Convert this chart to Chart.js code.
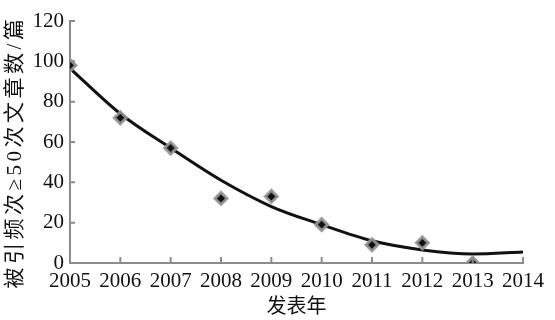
<!DOCTYPE html>
<html>
<head>
<meta charset="utf-8">
<script src="https://cdn.jsdelivr.net/npm/chart.js@4/dist/chart.umd.min.js"></script>
<style>
  html, body { margin: 0; padding: 0; background: #fff; }
  #wrap { width: 555px; height: 320px; }
</style>
</head>
<body>
<div id="wrap"><canvas id="citeChart"></canvas></div>
<script>
const years = [2005, 2006, 2007, 2008, 2009, 2010, 2011, 2012, 2013, 2014]
const pointYears = [2005, 2006, 2007, 2008, 2009, 2010, 2011, 2012, 2013]
const articleCounts = [98, 72, 57, 32, 33, 19, 9, 10, 0]
const trendValues = [96.5, 74, 57, 41, 28, 19, 11, 6.5, 4.5, 5.5]
const yTicks = [0, 20, 40, 60, 80, 100, 120]
const yTitle = '被引频次≥50次文章数/篇'

const axisGray = '#8c8c8c'
const serif = "'Liberation Serif', 'Noto Sans CJK SC', serif"

// small tick marks pointing into the plot, and the spaced-out y title
const innerTicks = {
    id: 'innerTicks',
    afterDraw(chart) {
        const ctx = chart.ctx
        const x = chart.scales.x
        const y = chart.scales.y
        ctx.save()
        ctx.strokeStyle = axisGray
        ctx.lineWidth = 2
        ctx.beginPath()
        years.forEach(v => {
            const px = x.getPixelForValue(v)
            ctx.moveTo(px, x.top)
            ctx.lineTo(px, x.top - 6)
        })
        yTicks.forEach(v => {
            const py = y.getPixelForValue(v)
            ctx.moveTo(y.right, py)
            ctx.lineTo(y.right + 5, py)
        })
        ctx.stroke()

        ctx.translate(15, 152)
        ctx.rotate(-Math.PI / 2)
        ctx.font = "21px " + serif
        ctx.letterSpacing = '3.5px'
        ctx.fillStyle = '#111'
        ctx.textAlign = 'center'
        ctx.textBaseline = 'middle'
        ctx.fillText(yTitle, 0, 0)
        ctx.restore()
    }
}

const data = {
    datasets: [{
        type: 'line',
        label: 'trend',
        data: years.map((yr, i) => ({x: yr, y: trendValues[i]})),
        borderColor: '#111',
        borderWidth: 3,
        pointRadius: 0,
        cubicInterpolationMode: 'monotone',
        fill: false,
        order: 2
    }, {
        type: 'scatter',
        label: 'articles',
        data: pointYears.map((yr, i) => ({x: yr, y: articleCounts[i]})),
        pointStyle: 'rectRot',
        pointRadius: 6,
        backgroundColor: '#111',
        borderColor: 'rgba(150,150,150,0.9)',
        borderWidth: 3,
        order: 1
    }]
}

const config = {
    data: data,
    options: {
        responsive: true,
        maintainAspectRatio: false,
        animation: false,
        layout: {
            padding: {left: 0, right: 32, top: 21, bottom: 0}
        },
        plugins: {
            legend: {display: false},
            tooltip: {enabled: false}
        },
        scales: {
            x: {
                type: 'linear',
                min: 2005,
                max: 2014,
                afterBuildTicks: scale => {
                    scale.ticks = years.map(v => ({value: v}))
                },
                afterFit: scale => { scale.height = 57 },
                grid: {display: false, drawTicks: false},
                border: {color: axisGray, width: 2},
                ticks: {
                    color: '#111',
                    font: {family: serif, size: 21},
                    padding: 6,
                    maxRotation: 0,
                    callback: v => String(v)
                },
                title: {
                    display: true,
                    text: '发表年',
                    color: '#111',
                    font: {family: serif, size: 20},
                    padding: {top: 0, bottom: 0}
                }
            },
            y: {
                min: 0,
                max: 120,
                afterBuildTicks: scale => {
                    scale.ticks = yTicks.map(v => ({value: v}))
                },
                afterFit: scale => { scale.width = 70 },
                grid: {display: false, drawTicks: false},
                border: {color: axisGray, width: 2},
                ticks: {
                    color: '#111',
                    font: {family: serif, size: 21},
                    padding: 6
                },
                title: {display: false}
            }
        }
    },
    plugins: [innerTicks]
}

new Chart(document.getElementById('citeChart'), config)
</script>
</body>
</html>
